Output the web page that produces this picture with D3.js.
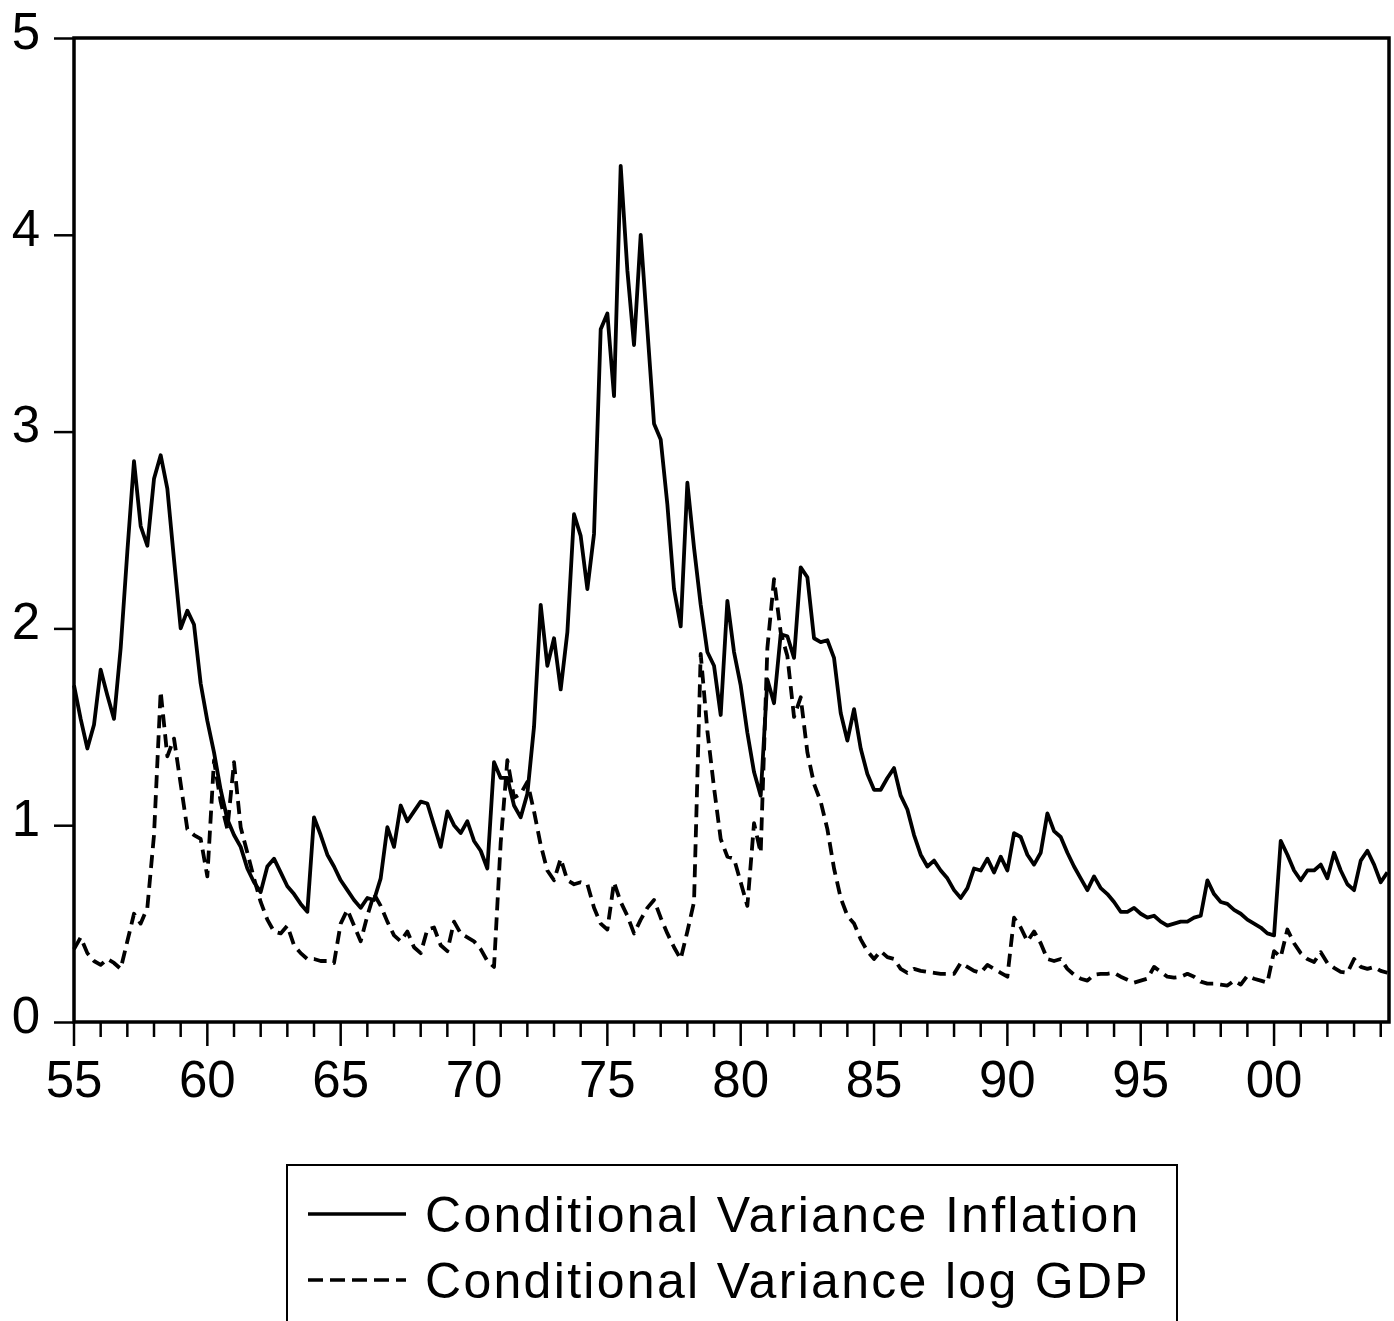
<!DOCTYPE html>
<html>
<head>
<meta charset="utf-8">
<script src="https://cdn.jsdelivr.net/npm/d3@7"></script>
<style>
  body { margin: 0; background: #fff; }
  svg { display: block; font-family: "Liberation Sans", Arial, sans-serif; }
</style>
</head>
<body>
<svg id="chart" width="1394" height="1321"></svg>
<script>
// quarterly data, 1955Q1 .. 2004Q2
var startYear = 1955;

var inflationVar = [
  1.71,1.54,1.39,1.51,1.79,1.66,1.54,1.90,2.39,2.85,
  2.52,2.42,2.76,2.88,2.71,2.35,2.00,2.09,2.02,1.72,
  1.53,1.37,1.18,1.03,0.95,0.89,0.78,0.71,0.66,0.79,
  0.83,0.76,0.69,0.65,0.60,0.56,1.04,0.95,0.85,0.79,
  0.72,0.67,0.62,0.58,0.63,0.62,0.73,0.99,0.89,1.10,
  1.02,1.07,1.12,1.11,1.00,0.89,1.07,1.00,0.96,1.02,
  0.92,0.87,0.78,1.32,1.24,1.24,1.10,1.04,1.16,1.50,
  2.12,1.81,1.95,1.69,1.98,2.58,2.47,2.20,2.48,3.52,
  3.60,3.18,4.35,3.82,3.44,4.00,3.52,3.04,2.96,2.63,
  2.20,2.01,2.74,2.41,2.12,1.88,1.81,1.56,2.14,1.88,
  1.71,1.47,1.27,1.15,1.74,1.62,1.97,1.96,1.85,2.31,
  2.26,1.95,1.93,1.94,1.85,1.57,1.43,1.59,1.39,1.26,
  1.18,1.18,1.24,1.29,1.15,1.08,0.95,0.85,0.79,0.82,
  0.77,0.73,0.67,0.63,0.68,0.78,0.77,0.83,0.76,0.84,
  0.77,0.96,0.94,0.85,0.80,0.86,1.06,0.97,0.94,0.86,
  0.79,0.73,0.67,0.74,0.68,0.65,0.61,0.56,0.56,0.58,
  0.55,0.53,0.54,0.51,0.49,0.50,0.51,0.51,0.53,0.54,
  0.72,0.65,0.61,0.60,0.57,0.55,0.52,0.50,0.48,0.45,
  0.44,0.92,0.85,0.77,0.72,0.77,0.77,0.80,0.73,0.86,
  0.77,0.70,0.67,0.82,0.87,0.80,0.71,0.76
];

var gdpVar = [
  0.37,0.43,0.35,0.31,0.29,0.32,0.30,0.27,0.41,0.55,
  0.50,0.58,0.95,1.68,1.35,1.44,1.21,0.98,0.95,0.93,
  0.74,1.33,1.12,0.98,1.32,0.99,0.86,0.73,0.61,0.52,
  0.46,0.45,0.49,0.39,0.35,0.32,0.32,0.31,0.31,0.30,
  0.50,0.57,0.49,0.41,0.54,0.65,0.59,0.51,0.44,0.41,
  0.46,0.38,0.35,0.47,0.48,0.39,0.36,0.51,0.45,0.43,
  0.41,0.37,0.31,0.28,0.91,1.33,1.14,1.16,1.22,1.07,
  0.90,0.77,0.72,0.83,0.72,0.70,0.71,0.70,0.58,0.50,
  0.47,0.71,0.61,0.54,0.45,0.52,0.58,0.62,0.53,0.45,
  0.38,0.32,0.46,0.61,1.87,1.48,1.19,0.93,0.84,0.83,
  0.71,0.59,1.01,0.86,1.90,2.25,1.98,1.86,1.55,1.65,
  1.37,1.21,1.12,0.98,0.78,0.63,0.54,0.50,0.42,0.36,
  0.32,0.36,0.33,0.32,0.27,0.25,0.27,0.26,0.255,0.25,
  0.245,0.245,0.245,0.30,0.28,0.26,0.25,0.29,0.27,0.25,
  0.23,0.53,0.48,0.41,0.46,0.40,0.32,0.31,0.32,0.27,
  0.24,0.22,0.21,0.24,0.245,0.245,0.25,0.23,0.215,0.20,
  0.21,0.22,0.28,0.255,0.23,0.225,0.23,0.245,0.23,0.205,
  0.195,0.195,0.19,0.185,0.21,0.19,0.235,0.22,0.21,0.20,
  0.36,0.33,0.47,0.40,0.35,0.32,0.305,0.355,0.30,0.275,
  0.255,0.25,0.32,0.28,0.27,0.28,0.26,0.25
];

var yTicks = [0, 1, 2, 3, 4, 5];
var majorYears = [1955, 1960, 1965, 1970, 1975, 1980, 1985, 1990, 1995, 2000];
var seriesNames = ["Conditional Variance Inflation", "Conditional Variance log GDP"];

var svg = d3.select("#chart");

var x = d3.scaleLinear().domain([1955, 2004.31]).range([74, 1389]);
var y = d3.scaleLinear().domain([0, 5]).range([1022, 38]);

function dateOf(i) { return startYear + i / 4; }

// y axis
var yAxis = d3.axisLeft(y)
    .tickValues(yTicks)
    .tickSize(20)
    .tickPadding(14)
    .tickFormat(d3.format("d"));

var gy = svg.append("g").attr("transform", "translate(74,0)").call(yAxis);
gy.select(".domain").remove();
gy.selectAll("line").attr("stroke", "#000").attr("stroke-width", 2.5);
gy.selectAll("text")
    .attr("font-size", 51)
    .attr("fill", "#000")
    .attr("dy", "0.2em");

// x axis: yearly minor ticks, 5-year major ticks
var gx = svg.append("g").attr("transform", "translate(0,1022)");
var minorYears = d3.range(1955, 2005);
gx.selectAll("line.minor")
    .data(minorYears)
    .enter()
    .append("line")
    .attr("class", "minor")
    .attr("x1", function (d) { return x(d) })
    .attr("x2", function (d) { return x(d) })
    .attr("y1", 0)
    .attr("y2", function (d) { return majorYears.indexOf(d) >= 0 ? 24 : 15 })
    .attr("stroke", "#000")
    .attr("stroke-width", 2.5);

gx.selectAll("text")
    .data(majorYears)
    .enter()
    .append("text")
    .attr("x", function (d) { return x(d) })
    .attr("y", 75)
    .attr("text-anchor", "middle")
    .attr("font-size", 51)
    .text(function (d) { return d3.format("02d")(d % 100) });

// data lines
var line = d3.line()
    .x(function (d, i) { return x(dateOf(i)) })
    .y(function (d) { return y(d) });

var plot = svg.append("g");

plot.append("path")
    .datum(gdpVar)
    .attr("d", line)
    .attr("fill", "none")
    .attr("stroke", "#000")
    .attr("stroke-width", 3.8)
    .attr("stroke-dasharray", "13,7")
    .attr("stroke-linejoin", "round");

plot.append("path")
    .datum(inflationVar)
    .attr("d", line)
    .attr("fill", "none")
    .attr("stroke", "#000")
    .attr("stroke-width", 3.8)
    .attr("stroke-linejoin", "round");

// frame
svg.append("rect")
    .attr("x", 74)
    .attr("y", 38)
    .attr("width", 1389 - 74)
    .attr("height", 1022 - 38)
    .attr("fill", "none")
    .attr("stroke", "#000")
    .attr("stroke-width", 3.5);

// legend
var legend = svg.append("g");
legend.append("rect")
    .attr("x", 287)
    .attr("y", 1165)
    .attr("width", 890)
    .attr("height", 170)
    .attr("fill", "none")
    .attr("stroke", "#000")
    .attr("stroke-width", 2);

var legendRows = legend.selectAll("g.row")
    .data(seriesNames)
    .enter()
    .append("g")
    .attr("class", "row")
    .attr("transform", function (d, i) { return "translate(0," + (1214 + i * 66) + ")" });

legendRows.append("line")
    .attr("x1", 308)
    .attr("x2", 406)
    .attr("y1", 0)
    .attr("y2", 0)
    .attr("stroke", "#000")
    .attr("stroke-width", 3.6)
    .attr("stroke-dasharray", function (d, i) { return i == 1 ? "15,7" : null });

legendRows.append("text")
    .attr("x", 425)
    .attr("y", 18)
    .attr("font-size", 50)
    .attr("letter-spacing", 2.3)
    .text(function (d) { return d });
</script>
</body>
</html>
